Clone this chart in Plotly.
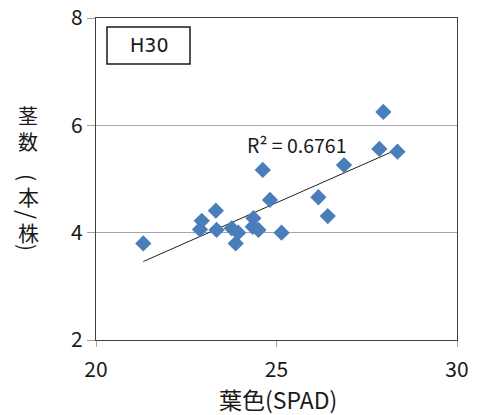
import numpy as np
import plotly.graph_objects as go

spad = [21.31, 22.93, 22.88, 23.32, 23.34, 23.76, 23.94, 23.87, 24.36, 24.34,
        24.50, 24.62, 24.82, 25.14, 26.16, 26.42, 26.87, 27.85, 27.96, 28.35]
stems = [3.80, 4.22, 4.06, 4.41, 4.05, 4.08, 4.00, 3.80, 4.27, 4.11,
         4.05, 5.17, 4.61, 4.00, 4.66, 4.31, 5.26, 5.56, 6.25, 5.51]
x_ticks = [20, 25, 30]
y_ticks = [2, 4, 6, 8]
label = "H30"
r2_text = "R² = 0.6761"
x_title = "葉色(SPAD)"
y_title_head = ["茎", "数"]
y_title_tail = ["(", "本", "/", "株", ")"]

W, H = 478, 415
L, R, T, B = 96, 457, 18, 340

def px(xp):
    return (xp - L) / (R - L)

def py(yp):
    return (B - yp) / (B - T)

slope, inter = np.polyfit(spad, stems, 1)
xs = np.array([min(spad), max(spad)])
ys = slope * xs + inter

fig = go.Figure()
fig.add_trace(go.Scatter(x=xs, y=ys, mode="lines",
                         line=dict(color="#202020", width=1), hoverinfo="skip"))
fig.add_trace(go.Scatter(x=spad, y=stems, mode="markers",
                         marker=dict(symbol="diamond", size=12.5, color="#4a7ebb")))

axis_common = dict(showline=True, linecolor="#404040", linewidth=1.3, mirror=True,
                   ticks="outside", tickcolor="#a0a0a0", zeroline=False, automargin=False,
                   tickfont=dict(family="Noto Sans CJK JP", size=21, color="#1a1a1a"))
fig.update_xaxes(range=[20, 30], tickvals=x_ticks, showgrid=False, ticklen=6,
                 ticklabelstandoff=5, **axis_common)
fig.update_yaxes(range=[2, 8], tickvals=y_ticks, showgrid=True, gridcolor="#a6a6a6",
                 gridwidth=1, ticklen=8, **axis_common)

def A(xp, yp, text, size, family="Noto Sans CJK JP", angle=0):
    return dict(x=px(xp), y=py(yp), xref="paper", yref="paper", text=text,
                xanchor="center", yanchor="middle", textangle=angle,
                showarrow=False, font=dict(family=family, size=size, color="#1a1a1a"))

ann = [A(297, 144, r2_text, 19.5), A(278, 399, x_title, 23),
       A(148.5, 45.5, label, 19, family="DejaVu Sans"),
       A(28, 128.5, "<br>".join(y_title_head), 20)]
ycent = [177, 196, 214, 232, 247]
for ch, yc in zip(y_title_tail, ycent):
    if ch in "(/)":
        ann.append(A(28, yc, ch, 23 if ch == "/" else 21, angle=90))
    else:
        ann.append(A(28, yc, ch, 21))

fig.update_layout(
    width=W, height=H, margin=dict(l=L, r=W - R, t=T, b=H - B, autoexpand=False),
    plot_bgcolor="white", paper_bgcolor="white", showlegend=False,
    annotations=ann,
    shapes=[dict(type="rect", xref="paper", yref="paper",
                 x0=px(107), x1=px(190), y0=py(64), y1=py(27),
                 line=dict(color="#1a1a1a", width=1.5), fillcolor="white", layer="below")],
)
fig.write_html("out.html", post_script="document.body.style.margin='0';",
               config={"displayModeBar": False})
